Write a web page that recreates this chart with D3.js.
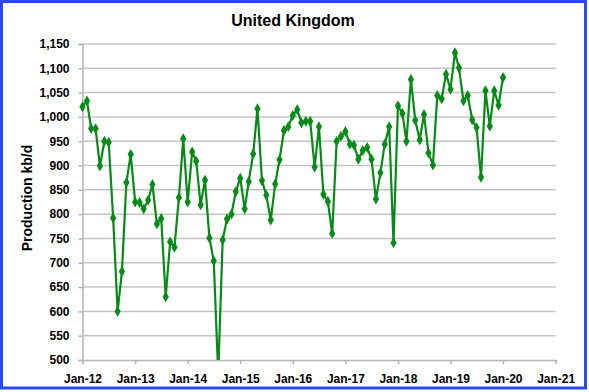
<!DOCTYPE html>
<html>
<head>
<meta charset="utf-8">
<script src="https://cdn.jsdelivr.net/npm/d3@7"></script>
<style>
  body { margin: 0; background: #fff; }
  svg { display: block; font-family: "Liberation Sans", Arial, sans-serif; }
</style>
</head>
<body>
<div id="chart-container"></div>
<script>
// data (kb/d), monthly from Jan-12 to Jan-20
const startMonth = "2012-01";
const production = [
  1021, 1033, 976, 976, 899, 950, 948, 792, 600, 682, 865, 923,
  825, 824, 811, 829, 861, 780, 791, 630, 743, 732, 834, 955,
  825, 928, 909, 819, 870, 751, 704, 470, 747, 790, 800, 846,
  874, 811, 867, 924, 1017, 869, 839, 788, 862, 912, 972, 980,
  1003, 1015, 988, 991, 991, 897, 980, 841, 826, 760, 950, 960,
  970, 944, 942, 913, 931, 937, 913, 831, 885, 944, 980, 741,
  1023, 1007, 950, 1077, 993, 953, 1005, 926, 901, 1044, 1037, 1088,
  1057, 1132, 1101, 1033, 1044, 994, 978, 876, 1054, 981, 1054, 1024,
  1081
];
const xTickLabels = ["Jan-12", "Jan-13", "Jan-14", "Jan-15", "Jan-16", "Jan-17", "Jan-18", "Jan-19", "Jan-20", "Jan-21"];
const yTicks = [500, 550, 600, 650, 700, 750, 800, 850, 900, 950, 1000, 1050, 1100, 1150];

// chart size and margins
const W = 589, H = 392;
const margin = { top: 44, right: 33, bottom: 32, left: 82.5 };
const width = 555.7 - margin.left;
const height = 360 - margin.top;

const parse = d3.timeParse("%Y-%m");
const t0 = parse(startMonth);
const dataset = production.map((v, i) => ({ date: d3.timeMonth.offset(t0, i), value: v }));

const x = d3.scaleTime()
    .domain([new Date(2012, 0, 1), new Date(2021, 0, 1)])
    .range([0, width]);

const y = d3.scaleLinear()
    .domain([500, 1150])
    .range([height, 0]);

const svg = d3.select("#chart-container")
  .append("svg")
    .attr("width", W)
    .attr("height", H);

// outer blue frame
svg.append("rect")
    .attr("x", 1.5).attr("y", 1.5)
    .attr("width", 584).attr("height", 386.5)
    .attr("fill", "#fff")
    .attr("stroke", "#2a48f5")
    .attr("stroke-width", 3);

const g = svg.append("g")
    .attr("transform", `translate(${margin.left},${margin.top})`);

// gridlines
g.append("g")
  .selectAll("line")
  .data(yTicks.slice(1))
  .join("line")
    .attr("x1", 0).attr("x2", width)
    .attr("y1", d => y(d)).attr("y2", d => y(d))
    .attr("stroke", "#c4c4c4")
    .attr("stroke-width", 1.5);

// y-axis
const yAxis = g.append("g")
    .call(d3.axisLeft(y).tickValues(yTicks).tickSize(4).tickPadding(9).tickFormat(d3.format(",")));
yAxis.select(".domain").attr("stroke", "#b4b4b4").attr("stroke-width", 1.5);
yAxis.selectAll(".tick line").attr("stroke", "#b4b4b4").attr("stroke-width", 1.5);
yAxis.selectAll("text")
    .attr("fill", "#000")
    .style("font-size", "12px")
    .style("font-weight", "bold");

// x-axis
const xTickDates = xTickLabels.map((d, i) => new Date(2012 + i, 0, 1));
const xAxis = g.append("g")
    .attr("transform", `translate(0,${height})`)
    .call(d3.axisBottom(x).tickValues(xTickDates).tickSize(4).tickPadding(10)
      .tickFormat((d, i) => xTickLabels[i]));
xAxis.select(".domain").attr("stroke", "#b4b4b4").attr("stroke-width", 1.5);
xAxis.selectAll(".tick line").attr("stroke", "#b4b4b4").attr("stroke-width", 1.5);
xAxis.selectAll("text")
    .attr("fill", "#000")
    .style("font-size", "12px")
    .style("font-weight", "bold");

// clip to plot area
svg.append("defs").append("clipPath").attr("id", "plot-clip")
  .append("rect").attr("x", -5).attr("y", -5).attr("width", width + 10).attr("height", height + 5);

const line = d3.line()
    .x(d => x(d.date))
    .y(d => y(d.value));

const plot = g.append("g").attr("clip-path", "url(#plot-clip)");

plot.append("path")
    .datum(dataset)
    .attr("fill", "none")
    .attr("stroke", "#078a18")
    .attr("stroke-width", 2.2)
    .attr("stroke-linejoin", "round")
    .attr("d", line);

plot.selectAll(".pt")
  .data(dataset.filter(d => d.value >= 500))
  .join("path")
    .attr("class", "pt")
    .attr("transform", d => `translate(${x(d.date)},${y(d.value)})`)
    .attr("d", d3.symbol(d3.symbolDiamond, 34))
    .attr("fill", "#078a18");

// title
svg.append("text")
    .attr("x", 293).attr("y", 26)
    .attr("text-anchor", "middle")
    .style("font-size", "16px")
    .style("font-weight", "bold")
    .text("United Kingdom");

// y-axis title
svg.append("text")
    .attr("transform", "translate(32,198) rotate(-90)")
    .attr("text-anchor", "middle")
    .style("font-size", "14px")
    .style("font-weight", "bold")
    .text("Production kb/d");
</script>
</body>
</html>
